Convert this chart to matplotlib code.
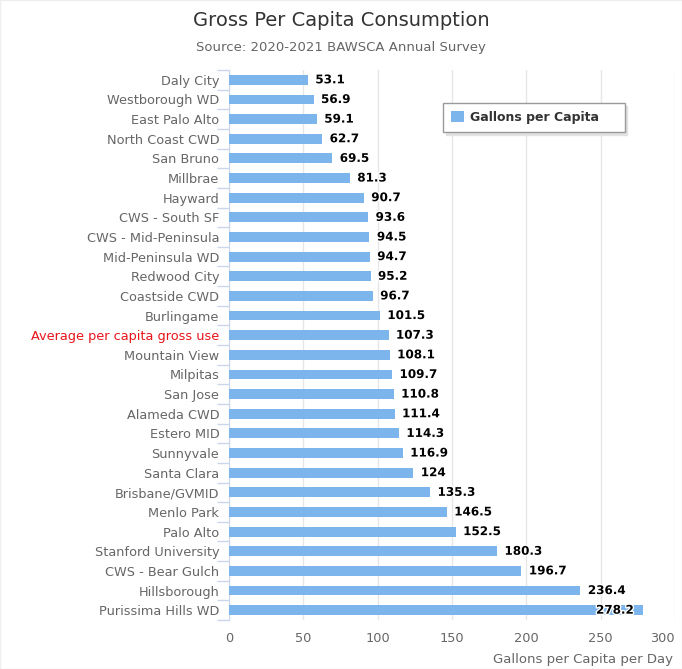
import numpy as np
import matplotlib.pyplot as plt
from matplotlib import patheffects as pe

agencies = ["Daly City", "Westborough WD", "East Palo Alto", "North Coast CWD", "San Bruno",
            "Millbrae", "Hayward", "CWS - South SF", "CWS - Mid-Peninsula", "Mid-Peninsula WD",
            "Redwood City", "Coastside CWD", "Burlingame", "Average per capita gross use",
            "Mountain View", "Milpitas", "San Jose", "Alameda CWD", "Estero MID", "Sunnyvale",
            "Santa Clara", "Brisbane/GVMID", "Menlo Park", "Palo Alto", "Stanford University",
            "CWS - Bear Gulch", "Hillsborough", "Purissima Hills WD"]
gpcd = [53.1, 56.9, 59.1, 62.7, 69.5, 81.3, 90.7, 93.6, 94.5, 94.7, 95.2, 96.7, 101.5, 107.3,
        108.1, 109.7, 110.8, 111.4, 114.3, 116.9, 124, 135.3, 146.5, 152.5, 180.3, 196.7,
        236.4, 278.2]
value_labels = ["53.1", "56.9", "59.1", "62.7", "69.5", "81.3", "90.7", "93.6", "94.5", "94.7",
                "95.2", "96.7", "101.5", "107.3", "108.1", "109.7", "110.8", "111.4", "114.3",
                "116.9", "124", "135.3", "146.5", "152.5", "180.3", "196.7", "236.4", "278.2"]
x_ticks = [0, 50, 100, 150, 200, 250, 300]
x_max = 300

fig = plt.figure(figsize=(6.82, 6.69), dpi=100)
ax = fig.add_axes([229 / 682, 49 / 669, 446 / 682, 550 / 669])

y = np.arange(len(agencies))
ax.barh(y, gpcd, height=0.5, color="#7cb5ec", zorder=3, label="Gallons per Capita    ")
ax.set_ylim(len(agencies) - 0.5, -0.5)
ax.set_xlim(0, x_max)

# data labels: outside the bar, or inside (right aligned) when they would overflow
for yi, v, s in zip(y, gpcd, value_labels):
    if v > x_max * 0.88:
        t = ax.text(v - 6, yi, s, va="center", ha="right", fontsize=8.6, fontweight="bold",
                    color="black", zorder=5)
    else:
        t = ax.text(v + 5, yi, s, va="center", ha="left", fontsize=8.6, fontweight="bold",
                    color="black", zorder=5)
    t.set_path_effects([pe.withStroke(linewidth=2, foreground="white")])

ax.set_yticks(y)
ax.set_yticklabels(agencies, fontsize=9.3, color="#666666")
for lab in ax.get_yticklabels():
    if lab.get_text().startswith("Average"):
        lab.set_color("#e8141a")
ax.tick_params(axis="y", length=0, pad=7)
ax.set_yticks(np.arange(-0.5, len(agencies)), minor=True)
ax.tick_params(axis="y", which="minor", length=9, color="#ccd6eb", width=1)

ax.set_xticks(x_ticks)
ax.set_xticklabels([str(t) for t in x_ticks], fontsize=9.3, color="#666666")
ax.get_xticklabels()[-1].set_ha("right")
ax.tick_params(axis="x", length=0, pad=9)
ax.grid(axis="x", color="#e6e6e6", linewidth=1, zorder=0)

for side in ["top", "right", "bottom"]:
    ax.spines[side].set_visible(False)
ax.spines["left"].set_color("#ccd6eb")

fig.text(673 / 682, 1 - 659 / 669, "Gallons per Capita per Day", ha="right", va="center",
         fontsize=9.5, color="#666666")
fig.text(0.5, 1 - 20 / 669, "Gross Per Capita Consumption", ha="center", va="center",
         fontsize=14, color="#333333")
fig.text(0.5, 1 - 47 / 669, "Source: 2020-2021 BAWSCA Annual Survey", ha="center", va="center",
         fontsize=9.5, color="#666666")

leg = ax.legend(loc="upper left", bbox_to_anchor=((443 - 229) / 446, 1 - (103 - 70) / 550),
                borderaxespad=0, frameon=True, fancybox=False,
                shadow={"color": "#e2e2e2", "alpha": 1}, handlelength=1.0,
                handleheight=1.0, handletextpad=0.5, borderpad=0.65,
                prop={"weight": "bold", "size": 9})
leg.get_frame().set_edgecolor("#999999")
leg.get_frame().set_linewidth(1)
for t in leg.get_texts():
    t.set_color("#333333")

fig.patches.append(plt.Rectangle((0, 0), 1, 1, transform=fig.transFigure, fill=False,
                                 edgecolor="#eeeeee", linewidth=1))

fig.savefig("out.png", dpi=100)
